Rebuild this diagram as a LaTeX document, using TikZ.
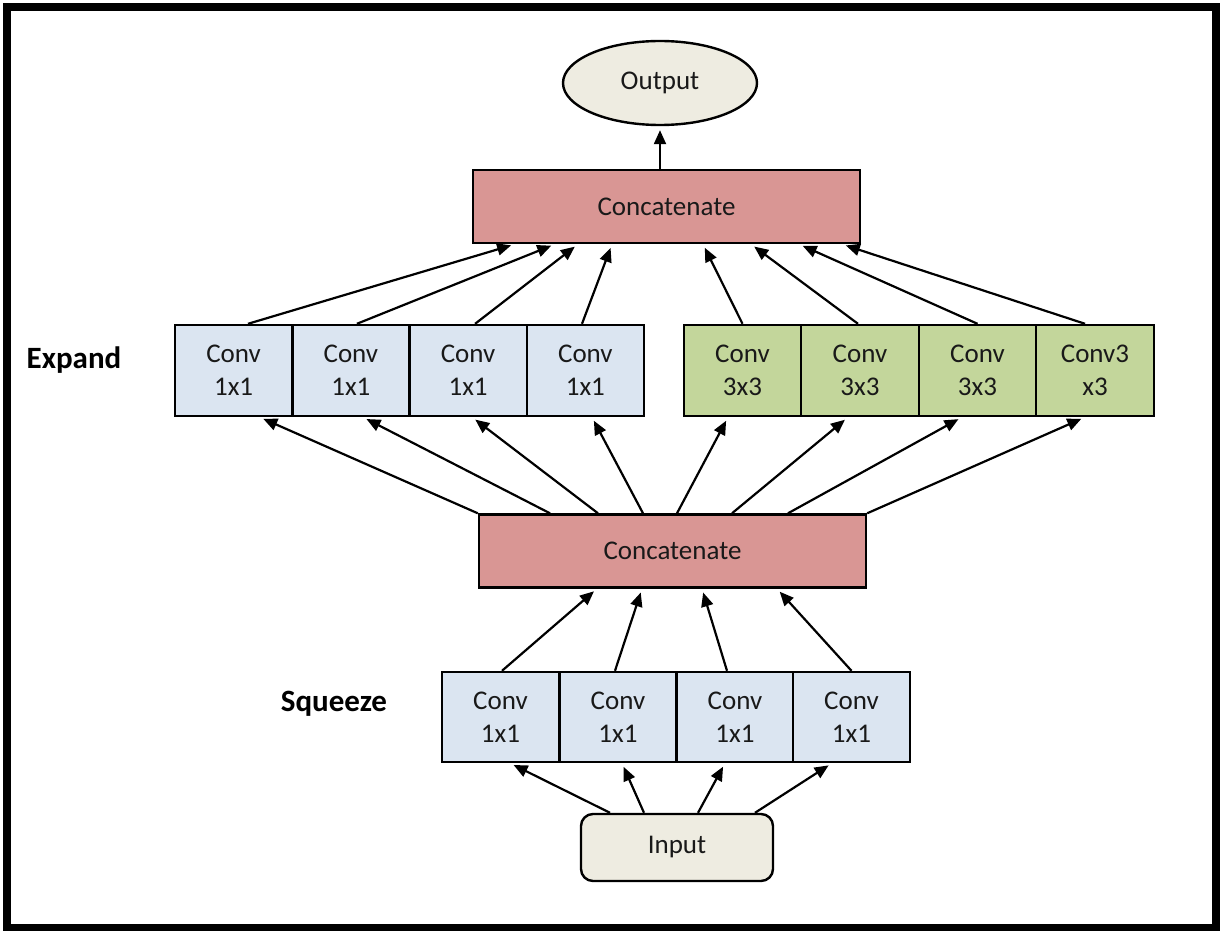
\documentclass[tikz,border=0pt]{standalone}
\usepackage{fontspec}
\setmainfont{Carlito}
\usetikzlibrary{arrows.meta,positioning,shapes.geometric}

\definecolor{concatred}{HTML}{D99694}
\definecolor{convblue}{HTML}{DBE5F1}
\definecolor{convgreen}{HTML}{C3D69B}
\definecolor{ioback}{HTML}{EEECE1}

\tikzset{
  conv/.style={draw, line width=1.2pt, minimum width=58.6pt, minimum height=45.5pt,
    inner sep=0pt, align=center, text=black!90, font=\fontsize{13.5}{16.6}\selectfont},
  concat/.style={draw, line width=1.2pt, fill=concatred, minimum width=193.5pt,
    minimum height=36.5pt, inner sep=0pt, text=black!90, font=\fontsize{13.5}{16.6}\selectfont},
  flow/.style={-{Triangle[length=7pt,width=6pt]}, line width=1.1pt, shorten >=2pt},
  lbl/.style={font=\bfseries\fontsize{15.5}{18}\selectfont}
}

\begin{document}
\begin{tikzpicture}[x=0.5pt, y=-0.5pt]
  \useasboundingbox (0,0) rectangle (1223,931);
  % 外框
  \draw[line width=4pt] (6.5,7) rectangle (1216,927.5);

  % 输出与顶部拼接
  \node[ellipse, draw, line width=1.2pt, fill=ioback, minimum width=97pt, minimum height=42pt,
    inner sep=0pt, text=black!90, font=\fontsize{13.5}{16.6}\selectfont] (out) at (660,83) {Output};
  \node[concat] (top) at (666.5,206.5) {Concatenate};

  % Expand 层：1x1 与 3x3
  \node[lbl] (expand) at (74,360) {Expand};
  \node[conv, fill=convblue] (ex1) at (233.6,370.5) {Conv\\1x1};
  \node[conv, fill=convblue] (ex2) at (350.9,370.5) {Conv\\1x1};
  \node[conv, fill=convblue] (ex3) at (468.1,370.5) {Conv\\1x1};
  \node[conv, fill=convblue] (ex4) at (585.4,370.5) {Conv\\1x1};
  \node[conv, fill=convgreen, minimum width=58.75pt] (ex5) at (742.5,370.5) {Conv\\3x3};
  \node[conv, fill=convgreen, minimum width=58.75pt] (ex6) at (860,370.5) {Conv\\3x3};
  \node[conv, fill=convgreen, minimum width=58.75pt] (ex7) at (977.5,370.5) {Conv\\3x3};
  \node[conv, fill=convgreen, minimum width=58.75pt] (ex8) at (1095,370.5) {Conv3\\x3};

  % 中间拼接
  \node[concat] (mid) at (672.5,551) {Concatenate};

  % Squeeze 层
  \node[lbl] (squeeze) at (334,704) {Squeeze};
  \node[conv, fill=convblue, minimum width=58.5pt, minimum height=45pt] (sq1) at (500.5,717) {Conv\\1x1};
  \node[conv, fill=convblue, minimum width=58.5pt, minimum height=45pt] (sq2) at (618,717) {Conv\\1x1};
  \node[conv, fill=convblue, minimum width=58.5pt, minimum height=45pt] (sq3) at (735,717) {Conv\\1x1};
  \node[conv, fill=convblue, minimum width=58.5pt, minimum height=45pt] (sq4) at (851.5,717) {Conv\\1x1};

  % 输入
  \node[draw, line width=1.2pt, rounded corners=6pt, fill=ioback, minimum width=96pt, minimum height=33.5pt,
    inner sep=0pt, text=black!90, font=\fontsize{13.5}{16.6}\selectfont] (in) at (677,847.5) {Input};

  % 输入 -> Squeeze
  \draw[flow] ([xshift=-33.5pt]in.north) -- ([xshift=4.75pt]sq1.south);
  \draw[flow] ([xshift=-16.5pt]in.north) -- ([xshift=2pt]sq2.south);
  \draw[flow] ([xshift=10.5pt]in.north) -- ([xshift=-5pt]sq3.south);
  \draw[flow] ([xshift=39pt]in.north) -- ([xshift=-9.75pt]sq4.south);

  % Squeeze -> 中间拼接
  \draw[flow] ([xshift=0.75pt]sq1.north) -- ([xshift=-37.75pt]mid.south);
  \draw[flow] ([xshift=-1.5pt]sq2.north) -- ([xshift=-15.25pt]mid.south);
  \draw[flow] ([xshift=-4pt]sq3.north) -- ([xshift=14.75pt]mid.south);
  \draw[flow] (sq4.north) -- ([xshift=52.25pt]mid.south);

  % 中间拼接 -> Expand
  \draw[flow] (mid.north west) -- ([xshift=13pt]ex1.south);
  \draw[flow] ([xshift=-61.25pt]mid.north) -- ([xshift=6pt]ex2.south);
  \draw[flow] ([xshift=-37.25pt]mid.north) -- ([xshift=2pt]ex3.south);
  \draw[flow] ([xshift=-14.75pt]mid.north) -- ([xshift=3.3pt]ex4.south);
  \draw[flow] ([xshift=2.25pt]mid.north) -- ([xshift=-7.25pt]ex5.south);
  \draw[flow] ([xshift=29.75pt]mid.north) -- ([xshift=-6pt]ex6.south);
  \draw[flow] ([xshift=57.75pt]mid.north) -- ([xshift=-7.75pt]ex7.south);
  \draw[flow] (mid.north east) -- ([xshift=-5pt]ex8.south);

  % Expand -> 顶部拼接
  \draw[flow] ([xshift=7.2pt]ex1.north) -- ([xshift=-75.75pt]top.south);
  \draw[flow] ([xshift=3pt]ex2.north) -- ([xshift=-55.75pt]top.south);
  \draw[flow] ([xshift=3.5pt]ex3.north) -- ([xshift=-44.25pt]top.south);
  \draw[flow] ([xshift=-1.7pt]ex4.north) -- ([xshift=-27.25pt]top.south);
  \draw[flow] (ex5.north) -- ([xshift=18.25pt]top.south);
  \draw[flow] ([xshift=-1pt]ex6.north) -- ([xshift=42.25pt]top.south);
  \draw[flow] (ex7.north) -- ([xshift=66.25pt]top.south);
  \draw[flow] ([xshift=-5pt]ex8.north) -- ([xshift=87.75pt]top.south);

  % 顶部拼接 -> 输出
  \draw[flow] ([xshift=-3.25pt]top.north) -- (out.south);
\end{tikzpicture}
\end{document}
